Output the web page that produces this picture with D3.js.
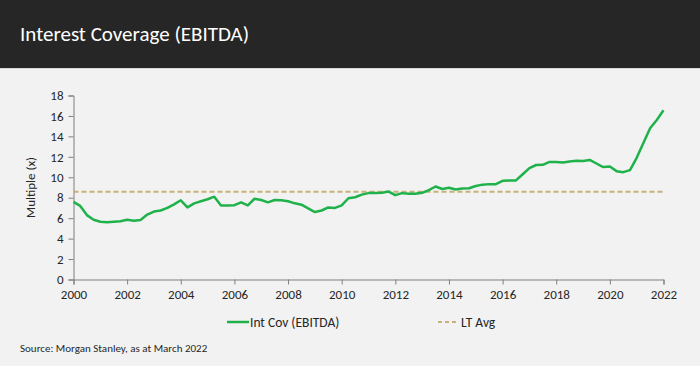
<!DOCTYPE html>
<html>
<head>
<meta charset="utf-8">
<script src="https://cdn.jsdelivr.net/npm/d3@7"></script>
<style>
body { margin: 0; background: #f2f2f2; }
svg { display: block; font-family: Carlito, Calibri, Lato, "Open Sans", sans-serif; }
</style>
</head>
<body>
<svg width="700" height="366"></svg>
<script>
// quarterly data, starting Q1 2000
var startYear = 2000;
var intCov = [
    7.6, 7.2, 6.3, 5.85, 5.65, 5.6, 5.65, 5.7,
    5.85, 5.75, 5.82, 6.35, 6.65, 6.75, 7.0, 7.35,
    7.75, 7.05, 7.45, 7.65, 7.85, 8.1, 7.25, 7.25,
    7.27, 7.55, 7.25, 7.9, 7.78, 7.55, 7.78, 7.76,
    7.65, 7.45, 7.32, 6.95, 6.6, 6.75, 7.05, 7.0,
    7.25, 7.95, 8.05, 8.3, 8.45, 8.45, 8.48, 8.6,
    8.25, 8.45, 8.4, 8.38, 8.48, 8.75, 9.1, 8.85,
    8.97, 8.8, 8.9, 8.93, 9.15, 9.28, 9.33, 9.33,
    9.65, 9.69, 9.69, 10.3, 10.9, 11.2, 11.22, 11.5,
    11.5, 11.45, 11.55, 11.62, 11.6, 11.7, 11.35, 11.0,
    11.05, 10.6, 10.5, 10.7, 11.9, 13.35, 14.8, 15.6,
    16.55
];
var ltAvg = 8.58;
var xTicks = [2000, 2002, 2004, 2006, 2008, 2010, 2012, 2014, 2016, 2018, 2020, 2022];
var yTicks = [0, 2, 4, 6, 8, 10, 12, 14, 16, 18];

var svg = d3.select("svg");

//шапка
svg.append("rect")
    .attr("x", 0).attr("y", 0)
    .attr("width", 700).attr("height", 68)
    .attr("fill", "#262626");
svg.append("line")
    .attr("x1", 0).attr("x2", 700)
    .attr("y1", 68.5).attr("y2", 68.5)
    .attr("stroke", "#d8d8d8");
svg.append("text")
    .attr("x", 20).attr("y", 41)
    .attr("fill", "#ffffff")
    .style("font-size", "21px")
    .text("Interest Coverage (EBITDA)");

var x = d3.scaleLinear().domain([2000, 2022]).range([73.5, 663.5]);
var y = d3.scaleLinear().domain([0, 18]).range([279.5, 95.5]);

var xAxis = svg.append("g")
    .attr("transform", "translate(0," + y(0) + ")")
    .call(d3.axisBottom(x).tickValues(xTicks).tickFormat(d3.format("d")).tickSizeOuter(0).tickSize(5).tickPadding(5));
var yAxis = svg.append("g")
    .attr("transform", "translate(" + x(2000) + ",0)")
    .call(d3.axisLeft(y).tickValues(yTicks).tickSizeOuter(0).tickSize(5).tickPadding(5));

[xAxis, yAxis].forEach(function(a) {
    a.select(".domain").attr("stroke", "#7f7f7f");
    a.selectAll(".tick line").attr("stroke", "#7f7f7f");
    a.selectAll(".tick text")
        .attr("fill", "#262626")
        .style("font-size", "13px")
        .style("font-family", "Carlito, Calibri, Lato, sans-serif");
});

svg.append("text")
    .attr("transform", "translate(35," + y(9) + ") rotate(-90)")
    .attr("text-anchor", "middle")
    .attr("fill", "#262626")
    .style("font-size", "13px")
    .text("Multiple (x)");

svg.append("line")
    .attr("x1", x(2000)).attr("x2", x(2022))
    .attr("y1", y(ltAvg)).attr("y2", y(ltAvg))
    .attr("stroke", "#c8b07a")
    .attr("stroke-width", 2)
    .attr("stroke-dasharray", "5,3");

var line = d3.line()
    .x(function(d, i) { return x(startYear + i / 4); })
    .y(function(d) { return y(d); });

svg.append("path")
    .datum(intCov)
    .attr("d", line)
    .attr("fill", "none")
    .attr("stroke", "#1fb24a")
    .attr("stroke-width", 2.5)
    .attr("stroke-linejoin", "round");

//легенда
svg.append("line")
    .attr("x1", 227).attr("x2", 249)
    .attr("y1", 322).attr("y2", 322)
    .attr("stroke", "#1fb24a").attr("stroke-width", 2.5);
svg.append("text")
    .attr("x", 250).attr("y", 326.5)
    .attr("fill", "#262626")
    .style("font-size", "13.5px")
    .text("Int Cov (EBITDA)");
svg.append("line")
    .attr("x1", 438).attr("x2", 457)
    .attr("y1", 322).attr("y2", 322)
    .attr("stroke", "#c8b07a").attr("stroke-width", 2)
    .attr("stroke-dasharray", "4,3");
svg.append("text")
    .attr("x", 461).attr("y", 326.5)
    .attr("fill", "#262626")
    .style("font-size", "13.5px")
    .text("LT Avg");

svg.append("text")
    .attr("x", 20).attr("y", 352)
    .attr("fill", "#262626")
    .style("font-size", "11px")
    .text("Source: Morgan Stanley, as at March 2022");
</script>
</body>
</html>
